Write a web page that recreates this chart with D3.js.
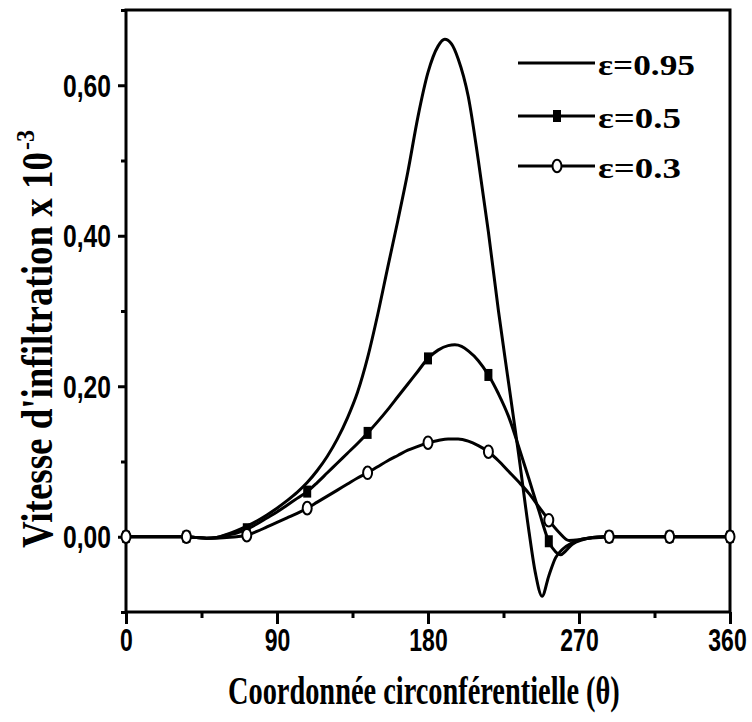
<!DOCTYPE html>
<meta charset="utf-8">
<style>
  body { margin: 0; background: #fff; }
  .curve { fill: none; stroke: #000; stroke-width: 3px; }
  .tick line { stroke: #000; stroke-width: 3px; }
</style>
<svg width="752" height="722"></svg>
<script src="https://d3js.org/d3.v7.min.js"></script>
<script>

  // eps = 0.95 (no markers)
  var theta95 = [0, 12, 24, 36, 42, 48, 54, 60, 66, 72, 78, 84, 90, 96, 102, 108, 114, 120, 126, 132,
    138, 144, 150, 156, 162, 168, 174, 180, 186, 190, 194, 198, 204, 210, 216, 222, 228, 234, 240, 244,
    248, 252, 256, 260, 266, 272, 278, 284, 300, 330, 360];
  var v95 = [0, 0, 0, 0, -0.001, -0.002, -0.001, 0.003, 0.008, 0.014, 0.021, 0.029, 0.038, 0.048, 0.059, 0.072, 0.088, 0.107, 0.13, 0.158,
    0.192, 0.238, 0.295, 0.358, 0.42, 0.485, 0.558, 0.617, 0.652, 0.661, 0.655, 0.635, 0.585, 0.50, 0.405, 0.30, 0.205, 0.11, 0.01, -0.048,
    -0.079, -0.052, -0.028, -0.017, -0.008, -0.003, -0.001, 0, 0, 0, 0];

  // eps = 0.5 (squares every 36 deg)
  var theta50 = [0, 12, 24, 36, 42, 48, 54, 60, 66, 72, 78, 84, 90, 96, 102, 108, 114, 120, 126, 132,
    138, 144, 150, 156, 162, 168, 174, 180, 186, 192, 196, 200, 204, 210, 216, 222, 228, 234, 240, 246,
    252, 256, 259, 262, 266, 272, 278, 284, 288, 300, 324, 360];
  var v50 = [0, 0, 0, 0, -0.001, -0.002, -0.001, 0.002, 0.005, 0.010, 0.017, 0.025, 0.033, 0.042, 0.051, 0.060, 0.072, 0.085, 0.098, 0.111,
    0.124, 0.138, 0.153, 0.169, 0.186, 0.203, 0.220, 0.237, 0.248, 0.254, 0.255, 0.253, 0.247, 0.234, 0.215, 0.19, 0.16, 0.12, 0.078, 0.035,
    -0.006, -0.02, -0.024, -0.019, -0.01, -0.004, -0.001, 0, 0, 0, 0, 0];

  // eps = 0.3 (open circles every 36 deg)
  var theta30 = [0, 12, 24, 36, 42, 48, 54, 60, 66, 72, 78, 84, 90, 96, 102, 108, 114, 120, 126, 132,
    138, 144, 150, 156, 162, 168, 174, 180, 186, 192, 198, 204, 210, 216, 222, 228, 234, 240, 246, 252,
    258, 264, 270, 276, 282, 288, 300, 324, 360];
  var v30 = [0, 0, 0, 0, -0.001, -0.002, -0.002, -0.001, 0.0, 0.002, 0.007, 0.013, 0.019, 0.025, 0.031, 0.038, 0.046, 0.054, 0.062, 0.07,
    0.078, 0.085, 0.093, 0.101, 0.108, 0.115, 0.12, 0.125, 0.128, 0.13, 0.13, 0.127, 0.121, 0.113, 0.101, 0.087, 0.073, 0.058, 0.04, 0.022,
    0.006, -0.005, -0.004, -0.002, -0.001, 0, 0, 0, 0];

  var legendLabels = ["ε=0.95", "ε=0.5", "ε=0.3"];
  var xMajor = [0, 90, 180, 270, 360],
    xMinor = [45, 135, 225, 315];
  var yMajor = [0, 0.2, 0.4, 0.6],
    yMinor = [-0.1, 0.1, 0.3, 0.5, 0.7];

  var svg = d3.select("svg");
  var padL = 126, padR = 730, padT = 10, padB = 612;

  var x = d3.scaleLinear().domain([0, 360]).range([padL, padR]);
  var y = d3.scaleLinear().domain([-0.1, 0.7]).range([padB, padT]);

  function zip(t, v) { return t.map(function (d, i) { return { t: d, v: v[i] }; }); }
  var s95 = zip(theta95, v95), s50 = zip(theta50, v50), s30 = zip(theta30, v30);

  var sansBold = "'Liberation Sans', Arial, sans-serif";
  var serifBold = "'Liberation Serif', 'Times New Roman', serif";

  // squeeze a text horizontally to a target width, keeping its anchor point
  function squeeze(sel, width, tx, ty) {
    sel.each(function (d, i) {
      var w = typeof width === "function" ? width(d, i) : width;
      var k = w / this.getComputedTextLength();
      var px = typeof tx === "function" ? tx(d, i) : tx;
      d3.select(this).attr("x", 0).attr("y", 0)
        .attr("transform", "translate(" + px + "," + ty + ") scale(" + k + ",1)");
    });
  }

  // x axis
  var gx = svg.append("g").attr("transform", "translate(0," + padB + ")")
    .call(d3.axisBottom(x).tickValues(xMajor).tickSize(12).tickPadding(4));
  gx.append("g").call(d3.axisBottom(x).tickValues(xMinor).tickSize(6).tickFormat(""));
  gx.selectAll(".domain").remove();
  gx.selectAll("text")
    .attr("font-size", 31).attr("font-weight", "bold").attr("font-family", sansBold).attr("fill", "#000")
    .attr("dy", null)
    .call(squeeze, function (d) { return String(d).length * 12.8; },
      function (d) { return d === 360 ? -3 : 0; }, 39);

  // y axis
  var fmt = function (d) { return d3.format(".2f")(d).replace(".", ","); };
  var gy = svg.append("g").attr("transform", "translate(" + padL + ",0)")
    .call(d3.axisLeft(y).tickValues(yMajor).tickSize(8).tickPadding(7).tickFormat(fmt));
  gy.append("g").call(d3.axisLeft(y).tickValues(yMinor).tickSize(5).tickFormat(""));
  gy.selectAll(".domain").remove();
  gy.selectAll("text")
    .attr("font-size", 31).attr("font-weight", "bold").attr("font-family", sansBold).attr("fill", "#000")
    .attr("dy", null)
    .call(squeeze, 48, -15, 11);

  // frame
  svg.append("rect")
    .attr("x", padL).attr("y", padT)
    .attr("width", padR - padL).attr("height", padB - padT)
    .attr("fill", "none").attr("stroke", "#000").attr("stroke-width", 3);

  var line = d3.line()
    .x(function (d) { return x(d.t); })
    .y(function (d) { return y(d.v); })
    .curve(d3.curveMonotoneX);

  [s95, s50, s30].forEach(function (s) {
    svg.append("path").datum(s).attr("class", "curve").attr("d", line);
  });

  function marked(s) { return s.filter(function (d) { return d.t % 36 === 0; }); }

  svg.append("g").selectAll("rect")
    .data(marked(s50)).enter().append("rect")
    .attr("x", function (d) { return x(d.t) - 4; })
    .attr("y", function (d) { return y(d.v) - 6; })
    .attr("width", 8).attr("height", 12)
    .attr("fill", "#000");

  svg.append("g").selectAll("ellipse")
    .data(marked(s30)).enter().append("ellipse")
    .attr("cx", function (d) { return x(d.t); })
    .attr("cy", function (d) { return y(d.v); })
    .attr("rx", 4.5).attr("ry", 6.3)
    .attr("fill", "#fff").attr("stroke", "#000").attr("stroke-width", 2);

  // legend
  var legY = [63, 116, 166];
  var leg = svg.append("g").selectAll("g")
    .data(legendLabels).enter().append("g")
    .attr("transform", function (d, i) { return "translate(0," + legY[i] + ")"; });
  leg.append("line").attr("x1", 518).attr("x2", 595)
    .attr("stroke", "#000").attr("stroke-width", 3);
  leg.filter(function (d, i) { return i === 1; }).append("rect")
    .attr("x", 553).attr("y", -6).attr("width", 8).attr("height", 12).attr("fill", "#000");
  leg.filter(function (d, i) { return i === 2; }).append("ellipse")
    .attr("cx", 557).attr("cy", 0).attr("rx", 4.5).attr("ry", 6.3)
    .attr("fill", "#fff").attr("stroke", "#000").attr("stroke-width", 2);
  leg.append("text")
    .attr("font-size", 30).attr("font-weight", "bold").attr("font-family", serifBold)
    .text(function (d) { return d; })
    .call(squeeze, function (d, i) { return i === 0 ? 97 : 83; }, 598, 12);

  // axis titles
  svg.append("text")
    .attr("font-size", 40).attr("font-weight", "bold").attr("font-family", serifBold)
    .text("Coordonnée circonférentielle (θ)")
    .call(squeeze, 392, 228, 704);

  var yt = svg.append("g").attr("transform", "translate(52,548) rotate(-90)");
  yt.append("text")
    .attr("font-size", 44).attr("font-weight", "bold").attr("font-family", serifBold)
    .text("Vitesse d'infiltration x 10")
    .call(squeeze, 396, 0, 0);
  yt.append("text")
    .attr("font-size", 26).attr("font-weight", "bold").attr("font-family", serifBold)
    .text("-3")
    .call(squeeze, 20, 398, -18);

</script>
